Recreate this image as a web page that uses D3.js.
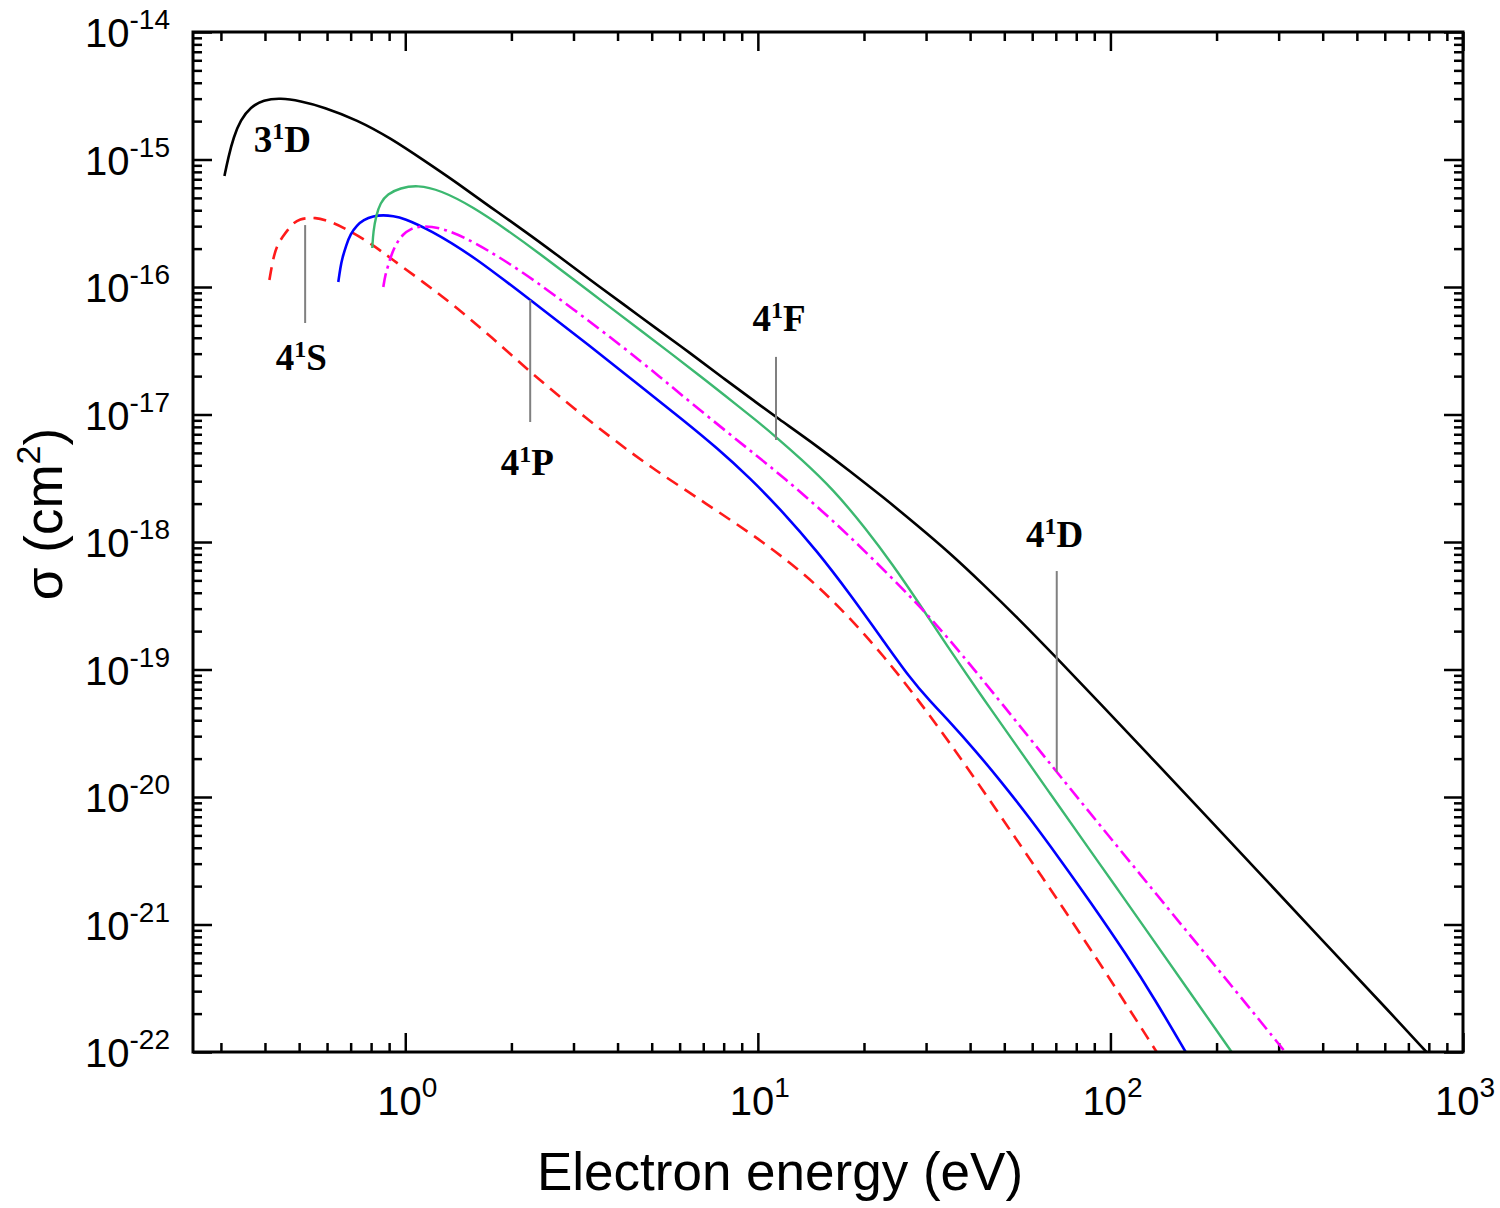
<!DOCTYPE html>
<html>
<head>
<meta charset="utf-8">
<script src="https://cdn.jsdelivr.net/npm/d3@7/dist/d3.min.js"></script>
<style>
  html, body { margin: 0; padding: 0; background: #fff; }
  svg { display: block; }
</style>
</head>
<body>
<svg id="chart" width="1500" height="1208"></svg>
<script>
// ---------------- DATA ----------------
// 3^1D (black solid)
const energy_3D = [0.307,0.315,0.326,0.341,0.364,0.396,0.442,0.504,0.586,0.731,0.907,1.125,1.404,1.741,2.160,2.697,3.344,4.148,5.178,6.423,7.964,9.945,11.26,14.71,18.24,22.63,28.25,35.04,43.46,54.27,70.43,93.27,129.3,179.1,264.9,410.2,631.0,787.7];
const sigma_3D  = [7.42e-16,1.046e-15,1.501e-15,2.041e-15,2.582e-15,2.929e-15,3.037e-15,2.876e-15,2.582e-15,2.041e-15,1.474e-15,9.91e-16,6.54e-16,4.24e-16,2.80e-16,1.782e-16,1.135e-16,7.356e-17,4.684e-17,3.037e-17,1.934e-17,1.231e-17,9.56e-18,5.66e-18,3.605e-18,2.254e-18,1.359e-18,8.199e-19,4.684e-19,2.581e-19,1.231e-19,5.461e-20,2.097e-20,8.051e-21,2.535e-21,6.906e-22,1.951e-22,1.0e-22];

// 4^1S (red dashed)
const energy_4S = [0.4117,0.4226,0.4338,0.4482,0.4661,0.4816,0.5040,0.5276,0.5558,0.5856,0.6672,0.7958,0.9068,1.1246,1.4041,1.7414,2.261,2.9935,4.148,5.1101,6.423,7.6603,9.4997,11.784,14.713,18.245,22.63,28.254,35.043,43.459,54.264,64.29,71.822,93.26,135.27];
const sigma_4S  = [1.135e-16,1.719e-16,2.135e-16,2.467e-16,2.851e-16,3.177e-16,3.415e-16,3.477e-16,3.477e-16,3.415e-16,2.955e-16,2.214e-16,1.688e-16,1.094e-16,6.845e-17,4.128e-17,2.154e-17,1.125e-17,5.561e-18,3.671e-18,2.423e-18,1.750e-18,1.177e-18,7.627e-19,4.600e-19,2.535e-19,1.299e-19,5.976e-20,2.651e-20,1.135e-20,4.600e-21,2.316e-21,1.474e-21,4.990e-22,1.0e-22];

// 4^1P (blue solid)
const energy_4P = [0.6457,0.6542,0.6628,0.6805,0.6985,0.7311,0.7603,0.8115,0.8663,0.9247,0.9870,1.1772,1.5586,2.261,3.3442,4.6346,6.136,7.6603,9.4997,11.784,14.713,18.245,22.63,26.992,30.75,35.043,41.25,48.576,59.06,71.822,87.37,111.22,133.51,163.48];
const sigma_4P  = [1.094e-16,1.409e-16,1.688e-16,2.135e-16,2.604e-16,3.064e-16,3.354e-16,3.605e-16,3.671e-16,3.605e-16,3.477e-16,2.800e-16,1.750e-16,7.907e-17,3.446e-17,1.673e-17,9.055e-18,5.461e-18,3.177e-18,1.719e-18,8.50e-19,3.910e-19,1.703e-19,8.577e-20,5.662e-20,3.875e-20,2.337e-20,1.359e-20,6.845e-21,3.264e-21,1.529e-21,5.765e-22,2.604e-22,1.0e-22];

// 4^1D (magenta dash-dot)
const energy_4D = [0.8663,0.8777,0.8950,0.9187,0.9491,0.9870,1.0332,1.1028,1.2565,1.5586,2.160,2.9935,4.148,5.2809,6.423,8.1765,9.9447,11.784,15.701,20.389,26.992,31.776,37.405,48.576,70.43,93.26,129.23,179.08,248.23,309.83];
const sigma_4D  = [1.0e-16,1.242e-16,1.488e-16,1.882e-16,2.254e-16,2.604e-16,2.851e-16,3.009e-16,2.955e-16,2.295e-16,1.311e-16,6.721e-17,3.384e-17,1.968e-17,1.253e-17,7.290e-18,4.726e-18,3.234e-18,1.628e-18,8.199e-19,3.771e-19,2.316e-19,1.372e-19,5.662e-20,1.571e-20,6.031e-21,2.004e-21,6.661e-22,2.214e-22,1.037e-22];

// 4^1F (green solid)
const energy_4F = [0.8062,0.8115,0.8277,0.8495,0.8892,0.9679,1.0814,1.2565,1.5586,1.9455,2.4134,2.9935,3.736,4.6346,5.748,6.856,7.966,9.9447,11.258,13.166,16.329,20.389,24.157,28.254,35.043,43.459,54.264,67.296,83.459,104.20,129.23,167.80,220.73];
const sigma_4F  = [2.022e-16,2.750e-16,3.671e-16,4.559e-16,5.363e-16,5.976e-16,6.310e-16,5.765e-16,4.241e-16,2.80e-16,1.815e-16,1.155e-16,7.224e-17,4.600e-17,2.929e-17,2.004e-17,1.448e-17,8.892e-18,6.661e-18,4.559e-18,2.604e-18,1.242e-18,6.601e-19,3.509e-19,1.422e-19,5.976e-20,2.512e-20,1.075e-20,4.600e-21,1.934e-21,8.273e-22,2.955e-22,1.0e-22];

// Axis ticks / labels
const xMajorTicks = [1, 10, 100, 1000];
const xTickExponents = ["0", "1", "2", "3"];
const yMajorTicks = [1e-22, 1e-21, 1e-20, 1e-19, 1e-18, 1e-17, 1e-16, 1e-15, 1e-14];
const yTickExponents = ["-22", "-21", "-20", "-19", "-18", "-17", "-16", "-15", "-14"];
const xTitle = "Electron energy (eV)";

// Annotation labels (state names) and their pointer lines, in data units
const annotLabelMain = ["3", "4", "4", "4", "4"];
const annotLabelSup  = ["1", "1", "1", "1", "1"];
const annotLabelTail = ["D", "S", "P", "F", "D"];
const annotLabelE     = [0.448, 0.507, 2.217, 11.48, 69.5];
const annotLabelSigma = [1.146e-15, 2.23e-17, 3.35e-18, 4.52e-17, 9.14e-19];
const annotLineE      = [null, 0.52, 2.261, 11.26, 70.43];
const annotLineTop    = [null, 3.06e-16, 7.91e-17, 2.83e-17, 5.92e-19];
const annotLineBottom = [null, 5.22e-17, 8.73e-18, 6.31e-18, 1.57e-20];

// ---------------- CHART ----------------
const svg = d3.select("#chart");
const L = 193, R = 1463, T = 32, B = 1052;

const x = d3.scaleLog().domain([0.25, 1000]).range([L, R]);
const y = d3.scaleLog().domain([1e-22, 1e-14]).range([B, T]);

function minorTicks(lo, hi) {
  const out = [];
  for (let e = Math.floor(Math.log10(lo)); e <= Math.ceil(Math.log10(hi)); e++) {
    for (let k = 2; k <= 9; k++) {
      const v = k * Math.pow(10, e);
      if (v >= lo * 0.9999 && v <= hi * 1.0001) out.push(v);
    }
  }
  return out;
}
const xMinor = minorTicks(0.25, 1000);
const yMinor = minorTicks(1e-22, 1e-14);

const MAJ = 19, MIN = 9;
const axesG = svg.append("g").attr("class", "axes");

function addAxis(gen, transform, values, size) {
  const g = axesG.append("g").attr("transform", transform)
    .call(gen.tickValues(values).tickSize(-size).tickFormat(""));
  g.select(".domain").remove();
  g.selectAll(".tick line").attr("stroke", "#000").attr("stroke-width", 2.5);
}
addAxis(d3.axisBottom(x), `translate(0,${B})`, xMajorTicks, MAJ);
addAxis(d3.axisBottom(x), `translate(0,${B})`, xMinor, MIN);
addAxis(d3.axisTop(x), `translate(0,${T})`, xMajorTicks, MAJ);
addAxis(d3.axisTop(x), `translate(0,${T})`, xMinor, MIN);
addAxis(d3.axisLeft(y), `translate(${L},0)`, yMajorTicks, MAJ);
addAxis(d3.axisLeft(y), `translate(${L},0)`, yMinor, MIN);
addAxis(d3.axisRight(y), `translate(${R},0)`, yMajorTicks, MAJ);
addAxis(d3.axisRight(y), `translate(${R},0)`, yMinor, MIN);

// clip
svg.append("defs").append("clipPath").attr("id", "plotclip")
  .append("rect").attr("x", L).attr("y", T).attr("width", R - L).attr("height", B - T);

const line = d3.line()
  .x(d => x(d[0]))
  .y(d => y(d[1]))
  .curve(d3.curveBasis);

const series = [
  { e: energy_3D, s: sigma_3D, color: "#000000", width: 2.6, dash: null },
  { e: energy_4S, s: sigma_4S, color: "#ff1a1a", width: 2.6, dash: "13,8" },
  { e: energy_4P, s: sigma_4P, color: "#0000ff", width: 2.6, dash: null },
  { e: energy_4F, s: sigma_4F, color: "#3cb870", width: 2.4, dash: null },
  { e: energy_4D, s: sigma_4D, color: "#ff00ff", width: 2.6, dash: "14,5,3,5" }
];

const plotG = svg.append("g").attr("clip-path", "url(#plotclip)");
series.forEach(sr => {
  const pts = sr.e.map((v, i) => [v, sr.s[i]]);
  const p = plotG.append("path")
    .attr("d", line(pts))
    .attr("fill", "none")
    .attr("stroke", sr.color)
    .attr("stroke-width", sr.width)
    .attr("stroke-linejoin", "round");
  if (sr.dash) p.attr("stroke-dasharray", sr.dash);
});

// annotation pointer lines
annotLineE.forEach((e, i) => {
  if (e === null) return;
  svg.append("line")
    .attr("x1", x(e)).attr("x2", x(e))
    .attr("y1", y(annotLineTop[i])).attr("y2", y(annotLineBottom[i]))
    .attr("stroke", "#808080").attr("stroke-width", 2);
});

// annotation labels
annotLabelE.forEach((e, i) => {
  const t = svg.append("text")
    .attr("x", x(e)).attr("y", y(annotLabelSigma[i]))
    .attr("text-anchor", "middle")
    .attr("font-family", "'Liberation Serif', 'Times New Roman', serif")
    .attr("font-weight", "bold")
    .attr("font-size", 37)
    .attr("fill", "#000");
  t.append("tspan").text(annotLabelMain[i]);
  t.append("tspan").attr("font-size", 24).attr("dy", -13).text(annotLabelSup[i]);
  t.append("tspan").attr("dy", 13).text(annotLabelTail[i]);
});

// frame
svg.append("rect")
  .attr("x", L).attr("y", T).attr("width", R - L).attr("height", B - T)
  .attr("fill", "none").attr("stroke", "#000").attr("stroke-width", 3);

// tick labels
const sansFont = "'Liberation Sans', Arial, Helvetica, sans-serif";
yMajorTicks.forEach((v, i) => {
  const t = svg.append("text")
    .attr("x", 170).attr("y", y(v) + 15)
    .attr("text-anchor", "end")
    .attr("font-family", sansFont).attr("font-size", 40).attr("fill", "#000");
  t.append("tspan").text("10");
  t.append("tspan").attr("font-size", 28).attr("dy", -18).text(yTickExponents[i]);
});
xMajorTicks.forEach((v, i) => {
  const t = svg.append("text")
    .attr("x", x(v) + 2).attr("y", 1115)
    .attr("text-anchor", "middle")
    .attr("font-family", sansFont).attr("font-size", 40).attr("fill", "#000");
  t.append("tspan").text("10");
  t.append("tspan").attr("font-size", 28).attr("dy", -18).text(xTickExponents[i]);
});

// axis titles
svg.append("text")
  .attr("x", 780).attr("y", 1190)
  .attr("text-anchor", "middle")
  .attr("font-family", sansFont).attr("font-size", 53).attr("fill", "#000")
  .text(xTitle);

const yt = svg.append("text")
  .attr("transform", "translate(62,514) rotate(-90)")
  .attr("text-anchor", "middle")
  .attr("font-family", sansFont).attr("font-size", 53).attr("fill", "#000");
yt.append("tspan").text("σ (cm");
yt.append("tspan").attr("font-size", 34).attr("dy", -22).text("2");
yt.append("tspan").attr("dy", 22).text(")");
</script>
</body>
</html>
